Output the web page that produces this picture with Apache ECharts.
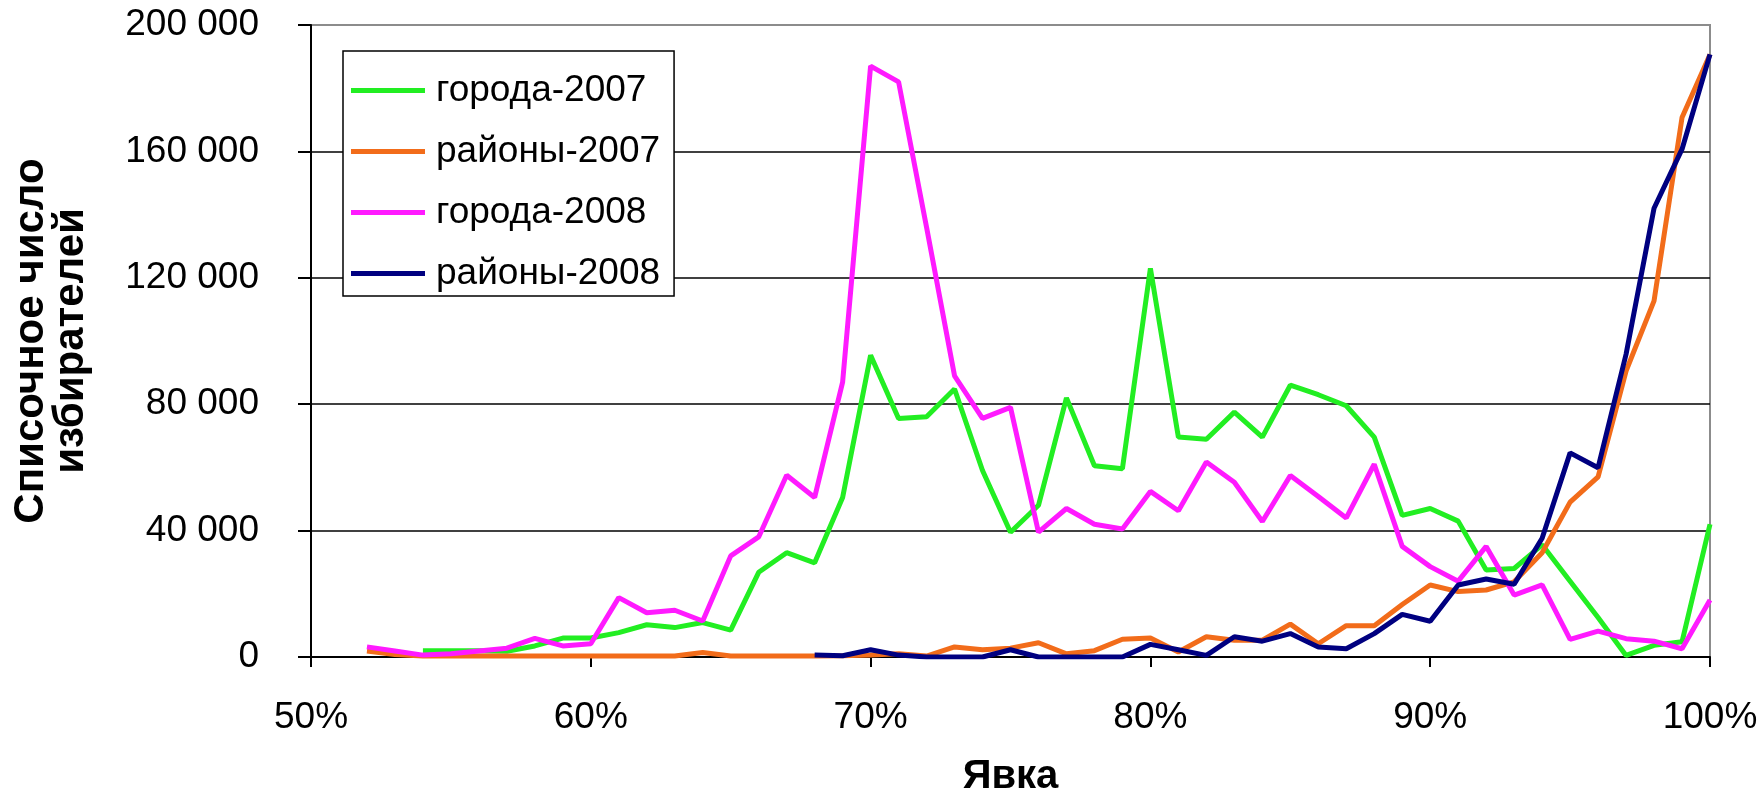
<!DOCTYPE html>
<html>
<head>
<meta charset="utf-8">
<script src="https://cdn.jsdelivr.net/npm/echarts@6/dist/echarts.min.js"></script>
<style>
html,body{margin:0;padding:0;background:#fff;}
#chart{width:1764px;height:790px;}
</style>
</head>
<body>
<div id="chart"></div>
<script>
const turnout = [52,53,54,55,56,57,58,59,60,61,62,63,64,65,66,67,68,69,70,71,72,73,74,75,76,77,78,79,80,81,82,83,84,85,86,87,88,89,90,91,92,93,94,95,96,97,98,99,100];
const cities2007 = [null,null,2000,2000,2000,1800,3500,6000,6000,7700,10200,9300,10900,8500,26800,33000,29800,50500,95500,75500,76000,84800,59000,39500,48000,82000,60500,59600,123000,69600,68900,77500,69600,86000,83000,79500,69600,44800,47000,43000,27500,28000,35500,24000,12500,500,3700,4800,42000];
const districts2007 = [1900,800,300,300,300,300,300,300,300,300,300,300,1400,300,300,300,300,400,600,1000,300,3200,2300,2800,4500,1000,2000,5600,6000,1600,6400,5300,5300,10400,4200,9900,9900,16600,22800,20700,21200,23800,33000,49000,57000,90500,112700,170700,190700];
const cities2008 = [3200,1900,600,1000,1900,2800,5900,3500,4200,18800,14000,14800,11400,32000,38000,57500,50500,87000,187000,182000,136000,89000,75500,79000,39500,47000,42000,40500,52400,46300,61700,55300,42900,57400,50800,44000,61000,35000,28600,24000,35000,19600,22800,5600,8200,5800,5000,2600,18000];
const districts2008 = [null,null,null,null,null,null,null,null,null,null,null,null,null,null,null,null,600,400,2300,600,0,0,0,2300,0,0,0,0,4000,2300,500,6400,5000,7400,3200,2600,7400,13500,11300,22800,24700,23000,37600,64600,59900,95800,142000,160700,190700];
const seriesNames = ['города-2007','районы-2007','города-2008','районы-2008'];
const yTicks = {min:0, max:200000, step:40000};
const xTicks = {min:50, max:100, step:10};

function pairs(vals){ return turnout.map((t,i)=>[t, vals[i]]); }
function fmtNum(v){ return String(v).replace(/\B(?=(\d{3})+(?!\d))/g,' '); }

const font = "'Liberation Sans', Arial, sans-serif";
const colors = ['#22EE22','#F26C1A','#FF1AFF','#000080'];
const dataSets = [cities2007, districts2007, cities2008, districts2008];

const chart = echarts.init(document.getElementById('chart'), null, {renderer:'canvas'});
chart.setOption({
  animation:false,
  backgroundColor:'#fff',
  grid:{left:311,right:54,top:25,bottom:133,show:true,borderColor:'#8c8c8c',borderWidth:2,backgroundColor:'transparent',
        containLabel:false, outerBoundsMode:'none'},
  legend:{
    orient:'vertical', left:343, top:51,
    backgroundColor:'#fff', borderColor:'#000', borderWidth:1.5,
    padding:[21,14,4,8], itemGap:24, itemWidth:74, itemHeight:5,
    icon:'rect',
    textStyle:{fontFamily:font,fontSize:37,color:'#000',padding:[0,0,0,6]},
    data:seriesNames
  },
  xAxis:{
    type:'value', min:xTicks.min, max:xTicks.max, interval:xTicks.step,
    name:'Явка', nameLocation:'middle', nameGap:100,
    nameTextStyle:{fontFamily:font,fontSize:40,fontWeight:'bold',color:'#000'},
    axisLine:{onZero:false,lineStyle:{color:'#000',width:2}},
    axisTick:{show:true,length:10,lineStyle:{color:'#000',width:2}},
    axisLabel:{fontFamily:font,fontSize:37,color:'#000',margin:42,formatter:'{value}%'},
    splitLine:{show:false}
  },
  yAxis:{
    type:'value', min:yTicks.min, max:yTicks.max, interval:yTicks.step,
    name:'Списочное число\nизбирателей', nameLocation:'middle', nameGap:220, nameRotate:90,
    nameTextStyle:{fontFamily:font,fontSize:42,fontWeight:'bold',color:'#000',lineHeight:40},
    axisLine:{show:true,lineStyle:{color:'#000',width:2}},
    axisTick:{show:true,length:13,lineStyle:{color:'#000',width:2}},
    axisLabel:{fontFamily:font,fontSize:37,color:'#000',margin:52,formatter:v=>fmtNum(v)},
    splitLine:{show:true,lineStyle:{color:['#000','#000','#000','#000','#000','#8c8c8c'],width:1.5}}
  },
  series:seriesNames.map((n,i)=>({
    name:n, type:'line', symbol:'none', data:pairs(dataSets[i]),
    connectNulls:false,
    lineStyle:{color:colors[i],width:5}, itemStyle:{color:colors[i]}, z:2+i
  }))
});
</script>
</body>
</html>
